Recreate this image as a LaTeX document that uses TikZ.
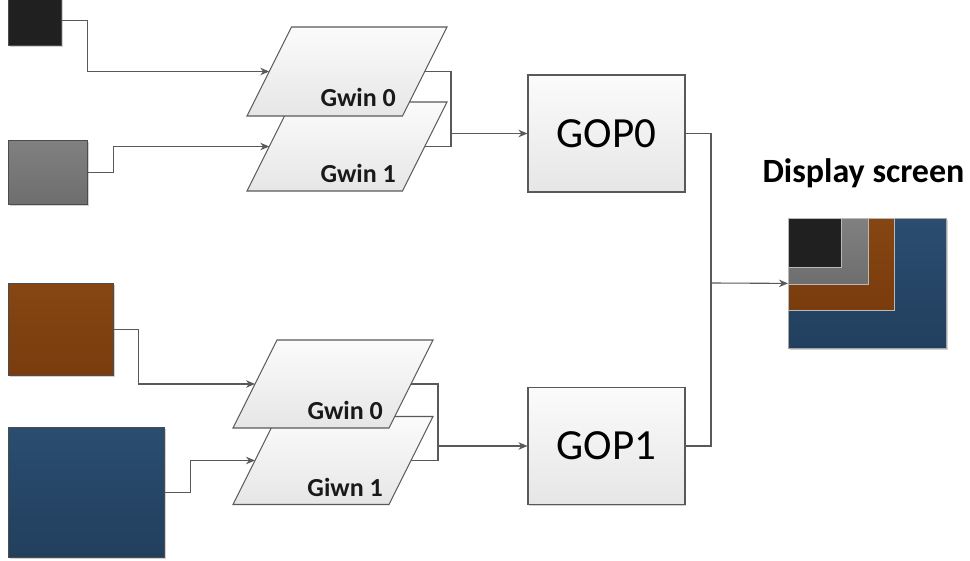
\documentclass[tikz,border=0pt]{standalone}
\usepackage{fontspec}
\setmainfont{Carlito}
\usetikzlibrary{arrows.meta,shadows,calc}

\definecolor{wirec}{HTML}{595959}
\definecolor{inkblack}{HTML}{202020}
\definecolor{inkgrayT}{HTML}{808080}
\definecolor{inkgrayB}{HTML}{6E6E6E}
\definecolor{inkbrownT}{HTML}{854613}
\definecolor{inkbrownB}{HTML}{7A3C0D}
\definecolor{inkblueT}{HTML}{2A4D70}
\definecolor{inkblueB}{HTML}{223F5E}
\definecolor{paneT}{HTML}{FBFBFB}
\definecolor{paneB}{HTML}{E6E6E6}

\tikzset{
  wire/.style={draw=wirec, line width=1.1pt},
  arr/.style={wire, -{Stealth[length=9pt,width=7.5pt]}},
  softshadow/.style={drop shadow={shadow xshift=1.2pt, shadow yshift=-1.2pt, opacity=0.18, fill=black}},
  swatch/.style={rectangle, draw=black!70, line width=0.8pt, inner sep=0pt, anchor=north west, softshadow},
  tile/.style={rectangle, draw=gray!55, line width=0.8pt, inner sep=0pt, anchor=north west},
  pane/.style={draw=wirec, line width=1.1pt, top color=paneT, bottom color=paneB},
  gop/.style={rectangle, draw=wirec, line width=1.1pt, minimum width=157pt, minimum height=117pt,
    top color=paneT, bottom color=paneB, softshadow, font=\fontsize{43}{46}\selectfont},
  tag/.style={font=\bfseries\fontsize{26}{28}\selectfont, anchor=east, inner sep=0pt, text=black!90},
}

% a GWIN layer: slanted pane centred at (#2,#3), half height #4;
% defines #1 (centre), #1-w and #1-e (middles of the slanted sides)
\newcommand\gwinlayer[4]{%
  \coordinate (#1) at (#2,#3);
  \path[pane] ($(#1)+(-100,#4)$) -- ($(#1)+(-100+#4,-#4)$) -- ($(#1)+(100,-#4)$)
    -- ($(#1)+(100-#4,#4)$) -- cycle;
  \coordinate (#1-w) at ($(#1)+(-100+#4/2,0)$);
  \coordinate (#1-e) at ($(#1)+(100-#4/2,0)$);
}

\begin{document}
\begin{tikzpicture}[x=1pt, y=-1pt]
\useasboundingbox (0,0) rectangle (970,561);

% source surfaces
\node[swatch, fill=inkblack, minimum width=53pt, minimum height=50pt] (sBlack) at (8,-5) {};
\node[swatch, top color=inkgrayT, bottom color=inkgrayB, minimum width=79pt, minimum height=64pt] (sGray) at (8,140) {};
\node[swatch, top color=inkbrownT, bottom color=inkbrownB, minimum width=105pt, minimum height=92pt] (sBrown) at (8,283) {};
\node[swatch, top color=inkblueT, bottom color=inkblueB, minimum width=156pt, minimum height=130pt] (sBlue) at (8,427) {};

% GWIN layers (lower one first so the upper one overlaps it)
\gwinlayer{g1}{347}{146.5}{44.5}
\gwinlayer{g0}{347}{71.5}{44.5}
\gwinlayer{g3}{333}{460.5}{44}
\gwinlayer{g2}{333}{384}{44}

\node[tag] (t0) at (396,97) {Gwin 0};
\node[tag] (t1) at (396,173) {Gwin 1};
\node[tag] (t2) at (383,410) {Gwin 0};
\node[tag] (t3) at (383,487) {Giwn 1};

% GOP blocks
\node[gop] (gop0) at (606.5,133.5) {GOP0};
\node[gop] (gop1) at (606.5,446) {GOP1};

% display screen with stacked windows
\node[font=\bfseries\fontsize{34}{38}\selectfont, inner sep=0pt] (title) at (863.5,173) {Display screen};
\node[tile, draw=gray!70, top color=inkblueT, bottom color=inkblueB, minimum width=158pt, minimum height=130pt, softshadow] (screen) at (788,218) {};
\node[tile, top color=inkbrownT, bottom color=inkbrownB, minimum width=106pt, minimum height=92pt] (dBrown) at (788,218) {};
\node[tile, top color=inkgrayT, bottom color=inkgrayB, minimum width=80pt, minimum height=66pt] (dGray) at (788,218) {};
\node[tile, fill=inkblack, minimum width=53pt, minimum height=49pt] (dBlack) at (788,218) {};

% inputs into the layers
\draw[arr] (sBlack.east) -- ++(26,0) |- (g0-w);
\draw[arr] (sGray.east) -- ++(26,0) |- (g1-w);
\draw[arr] (sBrown.east) -- ++(25,0) |- (g2-w);
\draw[arr] (sBlue.east) -- ++(26,0) |- (g3-w);

% layers merged into each GOP
\coordinate (j0) at (451,133.5);
\coordinate (j1) at (438,446);
\draw[wire] (g0-e) -| (j0) |- (g1-e);
\draw[arr] (j0) -- (gop0.west);
\draw[wire] (g2-e) -| (j1) |- (g3-e);
\draw[arr] (j1) -- (gop1.west);

% GOPs merged onto the screen
\coordinate (j2) at (711,283);
\draw[wire] (gop0.east) -| (j2) |- (gop1.east);
\draw[arr] (j2) -- (screen.west);
\end{tikzpicture}
\end{document}
